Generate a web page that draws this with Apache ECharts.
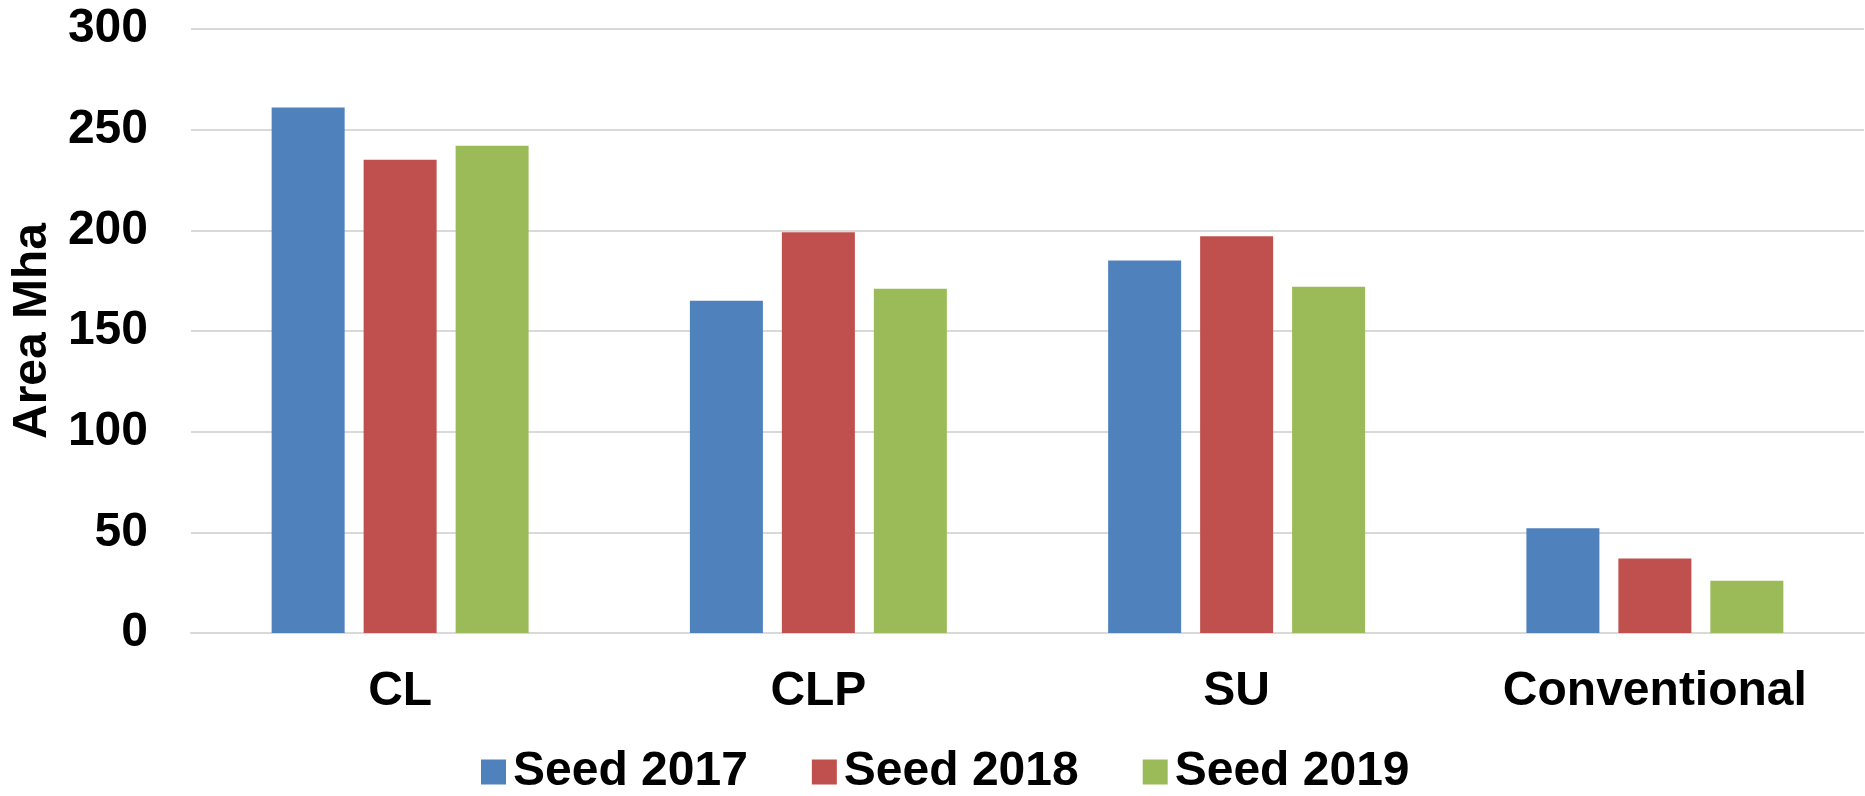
<!DOCTYPE html>
<html>
<head>
<meta charset="utf-8">
<script src="https://cdn.jsdelivr.net/npm/echarts@6/dist/echarts.min.js"></script>
<style>
html,body{margin:0;padding:0;background:#fff;}
#chart{width:1865px;height:796px;}
</style>
</head>
<body>
<div id="chart"></div>
<script>
const categories = ['CL', 'CLP', 'SU', 'Conventional'];
const seed2017 = [261, 165, 185, 52];
const seed2018 = [235, 199, 197, 37];
const seed2019 = [242, 171, 172, 26];
const seriesNames = ['Seed 2017', 'Seed 2018', 'Seed 2019'];
const colors = ['#4F81BD', '#C0504D', '#9BBB59'];
const yTicks = { min: 0, max: 300, interval: 50 };

const FONT = '"Liberation Sans", Arial, sans-serif';
const chart = echarts.init(document.getElementById('chart'), null, { renderer: 'canvas' });
const data = [seed2017, seed2018, seed2019];
chart.setOption({
  animation: false,
  backgroundColor: '#ffffff',
  color: colors,
  grid: { left: 191, right: 1, top: 29, bottom: 163, containLabel: false },
  legend: {
    data: seriesNames,
    left: 476,
    top: 743,
    itemWidth: 25,
    itemHeight: 25,
    itemGap: 64,
    icon: 'rect',
    textStyle: { fontFamily: FONT, fontWeight: 'bold', fontSize: 48, color: '#000', padding: [0, 0, 0, 2] }
  },
  xAxis: {
    type: 'category',
    data: categories,
    axisLine: { show: true, lineStyle: { color: '#D9D9D9', width: 2 } },
    axisTick: { show: false },
    axisLabel: { fontFamily: FONT, fontWeight: 'bold', fontSize: 48, color: '#000', margin: 35 }
  },
  yAxis: {
    type: 'value',
    min: yTicks.min,
    max: yTicks.max,
    interval: yTicks.interval,
    name: 'Area Mha',
    nameLocation: 'middle',
    nameGap: 119,
    nameRotate: 90,
    nameTextStyle: { fontFamily: FONT, fontWeight: 'bold', fontSize: 48, color: '#000' },
    axisLine: { show: false },
    axisTick: { show: false },
    axisLabel: { fontFamily: FONT, fontWeight: 'bold', fontSize: 48, color: '#000', margin: 43 },
    splitLine: { show: true, lineStyle: { color: '#D9D9D9', width: 2 } }
  },
  series: seriesNames.map((name, i) => ({
    name: name,
    type: 'bar',
    data: data[i],
    barWidth: 73,
    barGap: '26%',
    itemStyle: { color: colors[i] }
  }))
});
</script>
</body>
</html>
